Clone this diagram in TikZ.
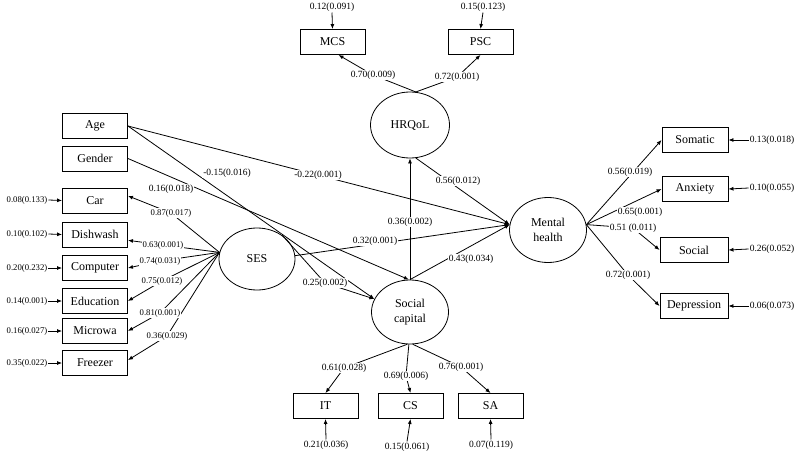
\documentclass[tikz,border=0pt]{standalone}
\usepackage{fontspec}
\setmainfont{Liberation Serif}
\usetikzlibrary{arrows.meta,backgrounds,shapes.geometric}
\begin{document}
\begin{tikzpicture}[x=1pt,y=-1pt,
  box/.style={draw, line width=0.9pt, minimum width=65pt, minimum height=25pt, inner sep=0pt, font=\fontsize{12}{13}\selectfont},
  lat/.style={draw, ellipse, line width=0.8pt, inner sep=0pt, align=center, font=\fontsize{12}{15}\selectfont},
  lbl/.style={fill=white, inner sep=1pt, font=\fontsize{9.5}{10}\selectfont},
  lbls/.style={fill=white, inner sep=1pt, font=\fontsize{8.7}{9}\selectfont},
  conn/.style={line width=0.8pt, -{Latex[length=5pt,width=4pt]}},
  plain/.style={line width=0.8pt},
]
\useasboundingbox (0,0) rectangle (800,452);

% observed boxes, left
\node[box] (age) at (95,126) {Age};
\node[box] (gender) at (95,158.5) {Gender};
\node[box] (car) at (95,200.5) {Car};
\node[box] (dish) at (95,234.5) {Dishwash};
\node[box] (comp) at (95,268) {Computer};
\node[box] (edu) at (95,301) {Education};
\node[box] (micro) at (95,331) {Microwa};
\node[box] (freez) at (95,363) {Freezer};

% top boxes
\node[box] (mcs) at (332.5,42) {MCS};
\node[box] (psc) at (480.5,42) {PSC};

% right boxes
\node[box, minimum width=66pt] (som) at (695,140) {Somatic};
\node[box, minimum width=66pt] (anx) at (695,189) {Anxiety};
\node[box, minimum width=68pt] (soc) at (694,250) {Social};
\node[box, minimum width=68pt] (dep) at (694,306) {Depression};

% bottom boxes
\node[box] (it) at (325.5,406) {IT};
\node[box] (cs) at (410.5,406) {CS};
\node[box] (sa) at (490.5,406) {SA};

% latent variables
\node[lat, minimum width=76pt, minimum height=62pt] (ses) at (257,259) {SES};
\node[lat, minimum width=79pt, minimum height=66pt] (hrq) at (410,125) {HRQoL};
\node[lat, minimum width=77pt, minimum height=65pt] (mh) at (548,230) {Mental\\health};
\node[lat, minimum width=77pt, minimum height=64pt] (sc) at (410,312) {Social\\capital};

% residual labels, left
\node[lbls] (r1) at (27,200) {0.08(0.133)};
\node[lbls] (r2) at (27,234) {0.10(0.102)};
\node[lbls] (r3) at (27,268) {0.20(0.232)};
\node[lbls] (r4) at (27,301) {0.14(0.001)};
\node[lbls] (r5) at (27,331) {0.16(0.027)};
\node[lbls] (r6) at (27,363) {0.35(0.022)};

% residual labels, top
\node[lbl] (t1) at (332,7) {0.12(0.091)};
\node[lbl] (t2) at (483,7) {0.15(0.123)};

% residual labels, right
\node[lbl] (q1) at (772,140) {0.13(0.018)};
\node[lbl] (q2) at (772,188) {0.10(0.055)};
\node[lbl] (q3) at (772,249) {0.26(0.052)};
\node[lbl] (q4) at (772,306) {0.06(0.073)};

% residual labels, bottom
\node[lbl] (b1) at (326,445) {0.21(0.036)};
\node[lbl] (b2) at (407,447) {0.15(0.061)};
\node[lbl] (b3) at (491,445) {0.07(0.119)};

% path labels
\node[lbls] (l87) at (171,213) {0.87(0.017)};
\node[lbls] (l63) at (163,245) {0.63(0.001)};
\node[lbls] (l74) at (160,261) {0.74(0.031)};
\node[lbls] (l75) at (162,281) {0.75(0.012)};
\node[lbls] (l81) at (160,313) {0.81(0.001)};
\node[lbls] (l36) at (167,336) {0.36(0.029)};

\node[lbl] (lm22) at (318,175) {-0.22(0.001)};
\node[lbl] (lm15) at (227,173) {-0.15(0.016)};
\node[lbl] (l16) at (171,189) {0.16(0.018)};
\node[lbl] (l25) at (325,283) {0.25(0.002)};
\node[lbl] (l32) at (375,241) {0.32(0.001)};
\node[lbl] (l36b) at (410,222) {0.36(0.002)};
\node[lbl] (l56) at (458,181) {0.56(0.012)};
\node[lbl] (l43) at (471,259) {0.43(0.034)};

\node[lbl] (l70) at (373,75) {0.70(0.009)};
\node[lbl] (l72) at (457,77) {0.72(0.001)};

\node[lbl] (s56) at (630,172) {0.56(0.019)};
\node[lbl] (s65) at (640,212) {0.65(0.001)};
\node[lbl] (s51) at (633,228) {0.51 (0.011)};
\node[lbl] (s72) at (628,275) {0.72(0.001)};

\node[lbl] (c61) at (344,368) {0.61(0.028)};
\node[lbl] (c69) at (406,376) {0.69(0.006)};
\node[lbl] (c76) at (461,367) {0.76(0.001)};

\begin{scope}[on background layer]
  % residual arrows
  \draw[conn] (r1.east) -- (car.west);
  \draw[conn] (r2.east) -- (dish.west);
  \draw[conn] (r3.east) -- (comp.west);
  \draw[conn] (r4.east) -- (edu.west);
  \draw[conn] (r5.east) -- (micro.west);
  \draw[conn] (r6.east) -- (freez.west);
  \draw[conn] (t1.south) -- (mcs.north);
  \draw[conn] (t2.south) -- (psc.north);
  \draw[conn] (q1.west) -- (som.east);
  \draw[conn] (q2.west) -- (anx.east);
  \draw[conn] (q3.west) -- (soc.east);
  \draw[conn] (q4.west) -- (dep.east);
  \draw[conn] (b1.north) -- (it.south);
  \draw[conn] (b2.north) -- (cs.south);
  \draw[conn] (b3.north) -- (sa.south);

  % SES indicators
  \draw[conn] (ses.170) -- (l87.center) -- (car.8);
  \draw[conn] (ses.170) -- (l63.center) -- (dish.-10);
  \draw[conn] (ses.170) -- (l74.center) -- (comp.east);
  \draw[conn] (ses.170) -- (l75.center) -- (edu.east);
  \draw[conn] (ses.170) -- (l81.center) -- (micro.east);
  \draw[conn] (ses.170) -- (l36.center) -- (freez.5);

  % structural paths
  \draw[conn] (age.east) -- (mh.172);
  \draw[conn] (age.east) -- (sc.160);
  \draw[conn] (gender.east) -- (sc.92);
  \draw[conn] (ses.43) -- (l25.center) -- (sc.160);
  \draw[conn] (ses.5) -- (mh.172);
  \draw[conn] (sc.north) -- (hrq.south);
  \draw[conn] (hrq.-80) -- (mh.172);
  \draw[conn] (sc.north) -- (mh.172);

  % HRQoL indicators
  \draw[conn] (hrq.80) -- (l70.center) -- ([xshift=6pt]mcs.south);
  \draw[conn] (hrq.80) -- (l72.center) -- (psc.south);

  % Mental health indicators
  \draw[conn] (mh.8) -- (som.west);
  \draw[conn] (mh.8) -- (anx.west);
  \draw[conn] (mh.8) -- (s51.center) -- (soc.west);
  \draw[conn] (mh.8) -- (s72.center) -- (dep.west);

  % Social capital indicators
  \draw[conn] (sc.-95) -- (c61.center) -- (it.north);
  \draw[conn] (sc.-92) -- (c69.center) -- (cs.north);
  \draw[conn] (sc.-85) -- (c76.center) -- (sa.north);
\end{scope}
\end{tikzpicture}
\end{document}
